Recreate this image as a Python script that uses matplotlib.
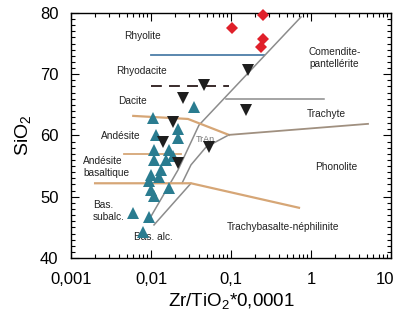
import matplotlib
matplotlib.use("Agg")
import matplotlib.pyplot as plt
from matplotlib.ticker import FixedLocator, MultipleLocator, LogLocator, NullFormatter
from matplotlib.transforms import ScaledTranslation

# Samples: Zr/TiO2*0.0001 and SiO2
red_x = [0.25, 0.103, 0.25, 0.24]
red_y = [79.7, 77.6, 75.7, 74.4]

black_x = [0.163, 0.046, 0.154, 0.025, 0.0188, 0.0141, 0.0218, 0.053]
black_y = [70.7, 68.2, 64.2, 66.1, 62.2, 58.9, 55.5, 58.1]

teal_x = [0.0345, 0.0106, 0.0218, 0.0218, 0.0116, 0.0109, 0.0168, 0.0109, 0.0154, 0.0188,
          0.0133, 0.0100, 0.0094, 0.0126, 0.0100, 0.0109, 0.0168, 0.0060, 0.0094, 0.0079]
teal_y = [64.6, 62.9, 61.1, 59.6, 60.1, 57.6, 57.6, 56.0, 56.0, 56.6,
          54.4, 53.5, 52.6, 53.2, 51.1, 50.1, 51.4, 47.3, 46.7, 44.2]

# field boundaries of the Winchester & Floyd diagram (x, y)
rhy_line = ([0.01, 0.258], [73.1, 73.1])
dac_line = ([0.01, 0.094], [68.1, 68.1])
alk_line = ([0.75, 0.0398, 0.0218, 0.0094], [79.35, 61.7, 54.4, 46.2])
tran_line = ([0.094, 0.0487, 0.0316, 0.0244], [60.1, 58.1, 55.2, 52.2])
bsn_line = ([0.0316, 0.0109], [52.2, 45.4])
and_line = ([0.006, 0.029, 0.094], [63.2, 62.7, 60.1])
trach_line = ([0.094, 5.16], [60.1, 61.9])
com_line = ([0.0866, 1.45], [66.0, 66.0])
basand_line = ([0.0046, 0.0237], [57.0, 57.0])
subab_line = ([0.002, 0.0316, 0.708], [52.2, 52.2, 48.2])

field_labels = [
    ("Rhyolite", 0.0079, 76.2, "center"),
    ("Rhyodacite", 0.0077, 70.5, "center"),
    ("Dacite", 0.0058, 65.6, "center"),
    ("Andésite", 0.0042, 59.9, "center"),
    ("Andésite\nbasaltique", 0.00141, 54.8, "left"),
    ("Bas.\nsubalc.", 0.00188, 47.6, "left"),
    ("Bas. alc.", 0.0106, 43.4, "center"),
    ("Comendite-\npantellérite", 0.944, 72.6, "left"),
    ("Trachyte", 1.54, 63.5, "center"),
    ("Phonolite", 2.05, 54.9, "center"),
    ("Trachybasalte-néphilinite", 0.447, 45.1, "center"),
]

x_ticks = [0.001, 0.01, 0.1, 1, 10]
x_ticklabels = ["0,001", "0,01", "0,1", "1", "10"]
y_ticks = [40, 50, 60, 70, 80]

sans = ["Liberation Sans", "DejaVu Sans"]

fig = plt.figure(figsize=(3.98, 3.24), dpi=100)
ax = fig.add_axes([0.1784, 0.2037, 0.8040, 0.7562])
ax.set_xscale("log")
ax.set_xlim(0.001, 10)
ax.set_ylim(40, 80)

gray = "#8c8c8c"
tan = "#d6a676"
brown = "#a09080"
ax.plot(*rhy_line, color="#4d7ea8", lw=1.3)
ax.plot(*dac_line, color="#2a1a1a", lw=1.3, linestyle=(0, (6, 4)))
ax.plot(*alk_line, color=gray, lw=1.1)
ax.plot(*tran_line, color=gray, lw=1.1)
ax.plot(*bsn_line, color=gray, lw=1.1)
ax.plot(*and_line, color=tan, lw=1.6)
ax.plot(*trach_line, color=brown, lw=1.3)
ax.plot(*com_line, color=gray, lw=1.1)
ax.plot(*basand_line, color=tan, lw=1.3)
ax.plot(*subab_line, color=tan, lw=1.6)

ax.plot(red_x, red_y, "D", color="#e0202a", ms=6, mew=0, clip_on=False, zorder=5)
ax.plot(teal_x, teal_y, "^", color="#2a7c90", ms=8, mew=0, zorder=5)
ax.plot(black_x, black_y, "v", color="#1e1e1e", ms=8, mew=0, zorder=6)

for txt, x, y, ha in field_labels:
    ax.text(x, y, txt, ha=ha, va="center", fontsize=7.3, color="#222222",
            family=sans, linespacing=1.25)
ax.text(0.0473, 59.4, "TrAn", ha="center", va="center", fontsize=6.5, color="#777777",
        family=sans)

ax.xaxis.set_major_locator(FixedLocator(x_ticks))
ax.set_xticklabels(x_ticklabels)
ax.xaxis.set_minor_locator(LogLocator(base=10, subs=range(2, 10)))
ax.xaxis.set_minor_formatter(NullFormatter())
ax.set_yticks(y_ticks)
ax.yaxis.set_minor_locator(MultipleLocator(1))

ax.tick_params(which="both", direction="in", top=True, right=True, width=0.8)
ax.tick_params(which="major", length=6)
ax.tick_params(which="minor", length=3)
ax.tick_params(axis="y", which="major", pad=9)
ax.tick_params(axis="x", which="major", pad=10)
for lab in ax.get_xticklabels() + ax.get_yticklabels():
    lab.set_family(sans)
    lab.set_fontsize(12)
# keep the last x label inside the figure
last = ax.get_xticklabels()[-1]
last.set_transform(last.get_transform() + ScaledTranslation(-4 / 72, 0, fig.dpi_scale_trans))
for sp in ax.spines.values():
    sp.set_linewidth(1.0)

ax.set_xlabel(r"Zr/TiO$\mathregular{_2}$*0,0001", fontsize=13.5, family=sans, labelpad=3)
ax.set_ylabel(r"SiO$\mathregular{_2}$", fontsize=14, family=sans, labelpad=5)

fig.savefig("out.png", dpi=100)
